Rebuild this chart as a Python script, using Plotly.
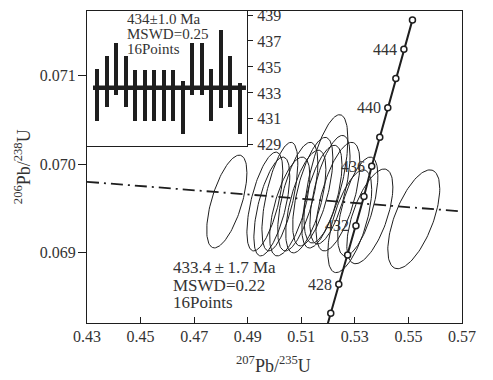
import numpy as np
import plotly.graph_objects as go

# ---- data ----
# analysis error ellipses: centre 207Pb/235U, centre 206Pb/238U, half-axes, correlation
ell_x = [0.4822, 0.4964, 0.4990, 0.5020, 0.5057, 0.5087, 0.5117, 0.5143,
         0.5177, 0.5207, 0.5237, 0.5192, 0.5281, 0.5311, 0.5356, 0.5520]
ell_y = [0.069578, 0.069578, 0.069522, 0.069633, 0.069522, 0.069633, 0.069578, 0.069689,
         0.069633, 0.069711, 0.069633, 0.069833, 0.069356, 0.069522, 0.069411, 0.069378]
ell_sx = [0.0075, 0.0067, 0.0067, 0.0067, 0.0075, 0.0075, 0.0075, 0.0075,
          0.0075, 0.0075, 0.0082, 0.0082, 0.0082, 0.0075, 0.0086, 0.0097]
ell_sy = [0.000522, 0.000556, 0.000556, 0.000611, 0.000556, 0.000611, 0.000578, 0.000611,
          0.000578, 0.000611, 0.000611, 0.000722, 0.000578, 0.000556, 0.000533, 0.000556]
ell_rho = [0.62] * 16

# concordia ticks (Ma) and their positions
conc_age = [424, 426, 428, 430, 432, 434, 436, 438, 440, 442, 444, 446]
conc_x = [0.5181, 0.5210, 0.5240, 0.5273, 0.5304, 0.5334, 0.5363, 0.5393,
          0.5423, 0.5453, 0.5483, 0.5515]
conc_y = [0.068014, 0.068320, 0.068648, 0.068976, 0.069305, 0.069634, 0.069975, 0.070302,
          0.070632, 0.070962, 0.071292, 0.071622]
conc_labels = [428, 432, 436, 440, 444]

# discordia (regression) line
disc_x = [0.43, 0.57]
disc_y = [0.069800, 0.069467]

# weighted-mean inset: 206Pb/238U ages with 2-sigma errors
spot = list(range(1, 17))
age = [432.85, 433.88, 434.86, 433.88, 432.8, 432.8, 432.8, 432.8,
       432.8, 431.86, 434.86, 434.86, 432.85, 434.87, 433.88, 431.8]
age_err = [2.0, 2.0, 2.0, 2.0, 2.0, 2.0, 2.0, 2.0,
           2.0, 2.05, 2.0, 2.0, 2.0, 3.0, 2.0, 2.0]
mean_age = 433.4
mean_span = [0.58, 16.63]

ink = '#1e1e1e'
txt = '#333'
serif = 'Liberation Serif, Times New Roman, serif'

fig = go.Figure()

# error ellipses
t = np.linspace(0, 2 * np.pi, 120)
for cx, cy, sx, sy, r in zip(ell_x, ell_y, ell_sx, ell_sy, ell_rho):
    fig.add_trace(go.Scatter(
        x=cx + sx * np.cos(t),
        y=cy + sy * (r * np.cos(t) + np.sqrt(1 - r * r) * np.sin(t)),
        mode='lines', line=dict(color=ink, width=1), hoverinfo='skip'))

# discordia
fig.add_trace(go.Scatter(x=disc_x, y=disc_y, mode='lines',
                         line=dict(color=ink, width=1.8, dash='12px,5px,2px,5px')))

# concordia
fig.add_trace(go.Scatter(
    x=conc_x, y=conc_y, mode='lines+markers',
    line=dict(color=ink, width=2),
    marker=dict(symbol='circle', size=6, color='white', line=dict(color=ink, width=1.5))))

annotations = []
for a, cx, cy in zip(conc_age, conc_x, conc_y):
    if a in conc_labels:
        annotations.append(dict(x=cx, y=cy, xref='x', yref='y', text=str(a),
                                showarrow=False, xanchor='right', xshift=-5,
                                font=dict(size=16, color=txt)))

# inset bars
fig.add_trace(go.Bar(
    x=spot, y=[2 * e for e in age_err], base=[a - e for a, e in zip(age, age_err)],
    width=0.42, marker=dict(color=ink, line=dict(width=0)),
    xaxis='x2', yaxis='y2'))
fig.add_trace(go.Scatter(x=mean_span, y=[mean_age, mean_age], mode='lines',
                         line=dict(color=ink, width=4.5), xaxis='x2', yaxis='y2'))

inset_text = ['434\u00b11.0 Ma', 'MSWD=0.25', '16Points']
for i, s in enumerate(inset_text):
    annotations.append(dict(x=0.101, y=0.975 - i * 0.049, xref='paper', yref='paper',
                            text=s, showarrow=False, xanchor='left', yanchor='middle',
                            font=dict(size=15, color=txt)))

main_text = ['433.4\u2009\u00b1\u20091.7 Ma', 'MSWD=0.22', '16Points']
for i, s in enumerate(main_text):
    annotations.append(dict(x=0.224, y=0.177 - i * 0.056, xref='paper', yref='paper',
                            text=s, showarrow=False, xanchor='left', yanchor='middle',
                            font=dict(size=17, color=txt)))

# axis titles
annotations.append(dict(x=-0.173, y=0.5, xref='paper', yref='paper', textangle=-90,
                        xanchor='center', yanchor='middle',
                        text='<sup>206</sup>Pb/<sup>238</sup>U', showarrow=False,
                        font=dict(size=18, color=txt)))
annotations.append(dict(x=0.496, y=-0.133, xref='paper', yref='paper',
                        xanchor='center', yanchor='middle',
                        text='<sup>207</sup>Pb/<sup>235</sup>U', showarrow=False,
                        font=dict(size=18, color=txt)))

fig.update_layout(
    width=493, height=380,
    margin=dict(l=87, r=31, t=7, b=57),
    paper_bgcolor='white', plot_bgcolor='white',
    showlegend=False,
    font=dict(family=serif, size=16, color=txt),
    xaxis=dict(range=[0.43, 0.57], tick0=0.43, dtick=0.02, tickformat='.2f',
               ticks='inside', ticklen=6, tickcolor=ink, showgrid=False, zeroline=False,
               showline=True, linecolor=ink, linewidth=1, mirror=True,
               ticklabelstandoff=-1),
    yaxis=dict(range=[0.068211, 0.071722], tick0=0.069, dtick=0.001, tickformat='.3f',
               ticks='outside', ticklen=8, tickcolor=ink, showgrid=False, zeroline=False,
               showline=True, linecolor=ink, linewidth=1, mirror=True,
               ticklabelstandoff=-1),
    xaxis2=dict(domain=[0, 0.4267], range=[-0.05, 16.74], anchor='y2',
                showticklabels=False, ticks='', showgrid=False, zeroline=False,
                showline=True, linecolor=ink, linewidth=1, mirror=True),
    yaxis2=dict(domain=[0.5665, 1], range=[428.89, 439.31], anchor='x2', side='right',
                tick0=429, dtick=2, ticks='outside', ticklen=5, tickcolor=ink,
                showgrid=False, zeroline=False, showline=True, linecolor=ink,
                linewidth=1, mirror=True, ticklabelstandoff=1),
    bargap=0,
    annotations=annotations,
)

fig.write_html('out.html', config={'displayModeBar': False},
               post_script="document.body.style.margin='0';")
